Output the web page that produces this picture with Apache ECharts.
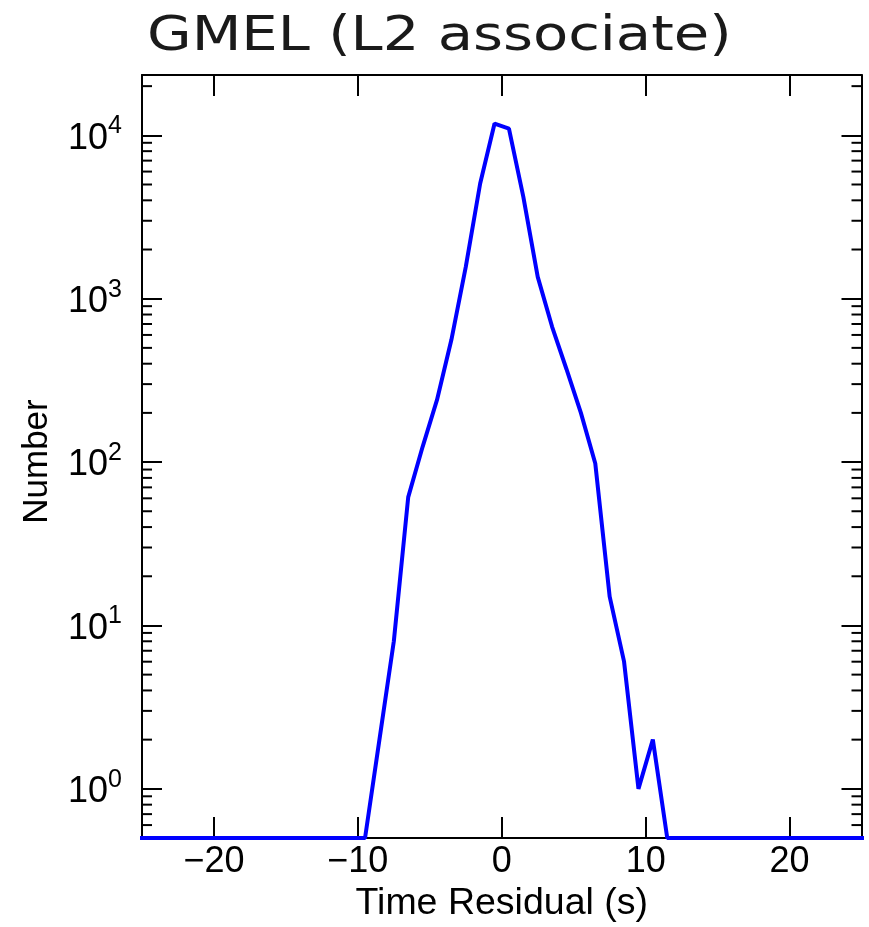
<!DOCTYPE html>
<html><head><meta charset="utf-8">
<script src="https://cdn.jsdelivr.net/npm/echarts@6/dist/echarts.min.js"></script>
<style>html,body{margin:0;padding:0;background:#fff}#c{width:869px;height:927px}</style>
</head><body><div id="c"></div>
<script>
const titleText = 'GMEL (L2 associate)';
const xName = 'Time Residual (s)';
const yName = 'Number';
// bin centres (s) and counts per bin; zero counts are drawn on the bottom floor
const binCenters = [-25.5, -9.5, -8.5, -7.5, -6.5, -5.5, -4.5, -3.5, -2.5, -1.5, -0.5, 0.5, 1.5, 2.5, 3.5, 4.5, 5.5, 6.5, 7.5, 8.5, 9.5, 10.5, 11.5, 25.5];
const counts     = [0, 0, 2, 8, 61, 124, 240, 560, 1565, 5070, 11800, 11000, 4200, 1360, 673, 370, 200, 98, 15, 6, 1, 2, 0, 0];
const xTickValues = [-20, -10, 0, 10, 20];
const yDecades = [0, 1, 2, 3, 4];
const xMin = -25, xMax = 25, yMin = 0.5, yMax = 23400;

const lineData = binCenters.map((x, i) => [x, counts[i] > 0 ? counts[i] : yMin]);
const minorVals = [];
for (let d = -1; d <= 4; d++) {
  for (let m = 2; m <= 9; m++) {
    const v = +(m * Math.pow(10, d)).toPrecision(6);
    if (v > yMin + 1e-9 && v < yMax) minorVals.push([xMin, v]);
  }
}
const LF = 'Liberation Sans';
const black = '#000';

function xFmt(v) {
  if (xTickValues.indexOf(Math.round(v)) < 0 || Math.abs(v - Math.round(v)) > 1e-6) return '';
  return v < 0 ? '\u2212' + Math.abs(v) : String(v);
}
function yFmt(v) {
  const e = Math.log10(v), r = Math.round(e);
  if (Math.abs(e - r) > 1e-6 || yDecades.indexOf(r) < 0) return '';
  return '{b|10}{s|' + r + '}';
}

const chart = echarts.init(document.getElementById('c'));
const axisLine = { show: true, onZero: false, lineStyle: { color: black, width: 2 } };
chart.setOption({
  animation: false,
  backgroundColor: '#fff',
  graphic: [{
    type: 'text', x: 147, y: 14, scaleX: 1.2, scaleY: 1, silent: true,
    style: { text: titleText, fontSize: 48, fontFamily: 'DejaVu Sans', fill: '#1a1a1a', textVerticalAlign: 'top' }
  }],
  grid: { left: 142, right: 7.5, top: 75, bottom: 89, containLabel: false, outerBoundsMode: 'none' },
  xAxis: [
    {
      type: 'value', min: xMin, max: xMax, splitNumber: 5, position: 'bottom',
      axisLine, splitLine: { show: false },
      axisTick: { inside: true, length: 21, lineStyle: { color: black, width: 2 } },
      axisLabel: { fontSize: 36, fontFamily: LF, color: black, margin: 6, formatter: xFmt },
      name: xName, nameLocation: 'middle', nameGap: 47,
      nameTextStyle: { fontSize: 37.5, fontFamily: LF, color: black }
    },
    {
      type: 'value', min: xMin, max: xMax, splitNumber: 5, position: 'top',
      axisLine, splitLine: { show: false },
      axisTick: { inside: true, length: 21, lineStyle: { color: black, width: 2 } },
      axisLabel: { show: false }
    }
  ],
  yAxis: [
    {
      type: 'log', logBase: 10, min: yMin, max: yMax, position: 'left',
      axisLine, splitLine: { show: false },
      axisTick: { inside: true, length: 20, lineStyle: { color: black, width: 2 } },
      axisLabel: {
        margin: 20, formatter: yFmt,
        rich: {
          b: { fontSize: 36, fontFamily: LF, color: black, verticalAlign: 'bottom', padding: [7, 0, 0, 0] },
          s: { fontSize: 25, fontFamily: LF, color: black, verticalAlign: 'top' }
        }
      },
      name: yName, nameLocation: 'middle', nameRotate: 90, nameGap: 87,
      nameTextStyle: { fontSize: 35, fontFamily: LF, color: black, padding: [0, 10, 0, 0] }
    },
    {
      type: 'log', logBase: 10, min: yMin, max: yMax, position: 'right',
      axisLine, splitLine: { show: false },
      axisTick: { inside: true, length: 20, lineStyle: { color: black, width: 2 } },
      axisLabel: { show: false }
    }
  ],
  series: [
    {
      type: 'custom', xAxisIndex: 0, yAxisIndex: 0, silent: true, z: 1,
      data: minorVals,
      renderItem: function (params, api) {
        const v = api.value(1);
        const pl = api.coord([xMin, v]);
        const pr = api.coord([xMax, v]);
        return {
          type: 'group', children: [
            { type: 'line', shape: { x1: pl[0], y1: pl[1], x2: pl[0] + 10, y2: pl[1] }, style: { stroke: black, lineWidth: 2 } },
            { type: 'line', shape: { x1: pr[0], y1: pr[1], x2: pr[0] - 10, y2: pr[1] }, style: { stroke: black, lineWidth: 2 } }
          ]
        };
      }
    },
    {
      type: 'line', xAxisIndex: 0, yAxisIndex: 0, data: lineData,
      showSymbol: false, symbol: 'none', clip: true, z: 3,
      lineStyle: { color: '#0000ff', width: 4 }
    }
  ]
});
</script></body></html>
